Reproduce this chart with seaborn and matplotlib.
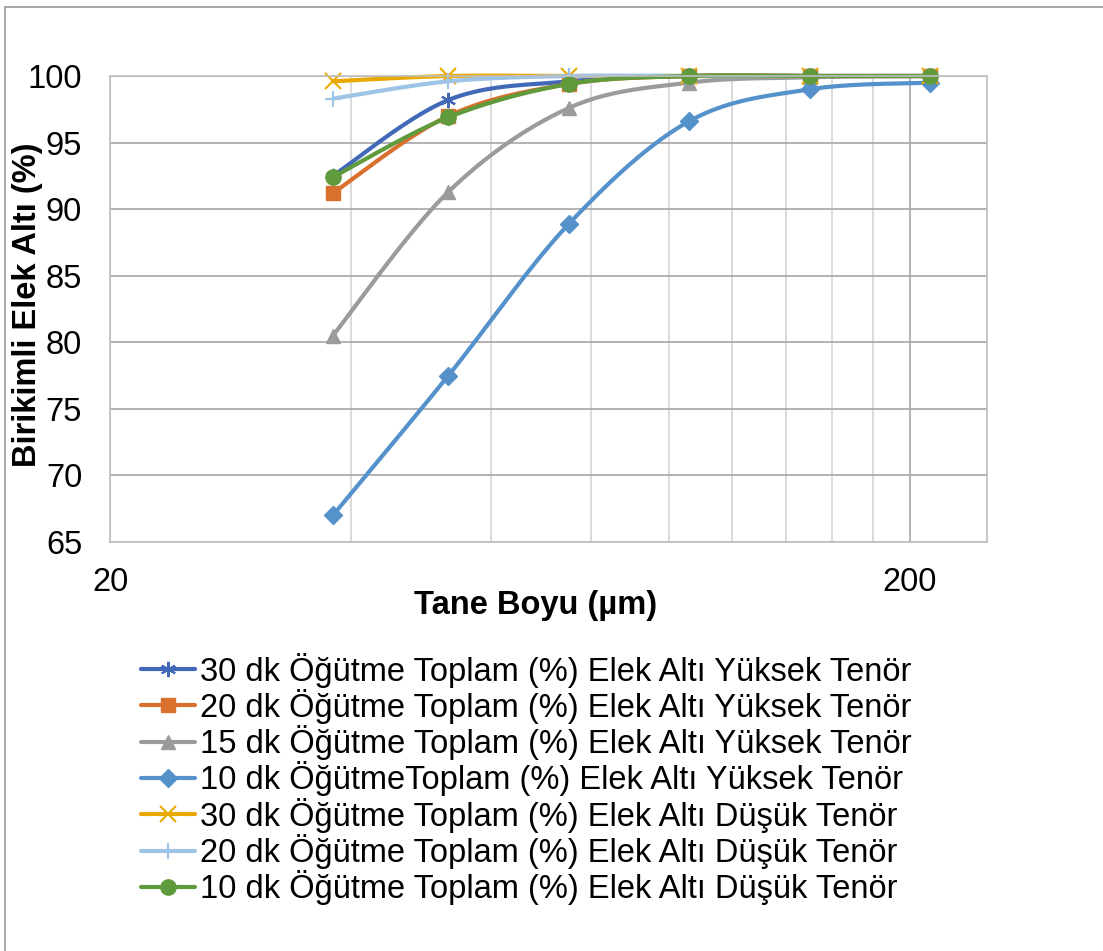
import matplotlib
matplotlib.use("Agg")
import matplotlib.pyplot as plt
import numpy as np
import pandas as pd
import seaborn as sns
from matplotlib.lines import Line2D
from matplotlib.ticker import FixedLocator, NullFormatter

# Data
sizes = [38, 53, 75, 106, 150, 212]   # Tane boyu (µm)

y30_high = [92.5, 98.2, 99.6, 100, 100, 100]
y20_high = [91.2, 97.0, 99.4, 100, 100, 100]
y15_high = [80.5, 91.3, 97.6, 99.5, 99.9, 100]
y10_high = [67.0, 77.5, 88.9, 96.6, 99.0, 99.5]
y30_low = [99.6, 100, 100, 100, 100, 100]
y20_low = [98.3, 99.6, 100, 100, 100, 100]
y10_low = [92.4, 96.9, 99.4, 100, 100, 100]

labels = [
    "30 dk Öğütme Toplam (%) Elek Altı Yüksek Tenör",
    "20 dk Öğütme Toplam (%) Elek Altı Yüksek Tenör",
    "15 dk Öğütme Toplam (%) Elek Altı Yüksek Tenör",
    "10 dk ÖğütmeToplam (%) Elek Altı Yüksek Tenör",
    "30 dk Öğütme Toplam (%) Elek Altı Düşük Tenör",
    "20 dk Öğütme Toplam (%) Elek Altı Düşük Tenör",
    "10 dk Öğütme Toplam (%) Elek Altı Düşük Tenör",
]
series = [y30_high, y20_high, y15_high, y10_high, y30_low, y20_low, y10_low]

colors = ["#4169B8", "#D9702D", "#9B9B9B", "#5591CB", "#E8AA00", "#9DC3E6", "#5F9B3C"]
markers = [(6, 2, 0), "s", "^", "D", "x", "+", "o"]
msizes = [11, 10, 10, 9, 12, 12, 11]


def smooth(xs, ys, n=40):
    # Excel-like smoothed line: cubic Bezier segments, Catmull-Rom tangents (1/6)
    lx = np.log10(np.asarray(xs, float))
    yy = np.asarray(ys, float)
    px = np.concatenate([[lx[0]], lx, [lx[-1]]])
    py = np.concatenate([[yy[0]], yy, [yy[-1]]])
    outx, outy = [], []
    t = np.linspace(0, 1, n)
    for i in range(1, len(px) - 2):
        p0 = np.array([px[i], py[i]])
        p3 = np.array([px[i + 1], py[i + 1]])
        p1 = p0 + (np.array([px[i + 1], py[i + 1]]) - np.array([px[i - 1], py[i - 1]])) / 6
        p2 = p3 - (np.array([px[i + 2], py[i + 2]]) - np.array([px[i], py[i]])) / 6
        b = ((1 - t) ** 3)[:, None] * p0 + (3 * (1 - t) ** 2 * t)[:, None] * p1 \
            + (3 * (1 - t) * t ** 2)[:, None] * p2 + (t ** 3)[:, None] * p3
        outx.extend(b[:, 0])
        outy.extend(b[:, 1])
    return 10 ** np.array(outx), np.array(outy)


sns.set_style("white")
plt.rcParams["font.family"] = ["Liberation Sans", "DejaVu Sans"]
plt.rcParams["text.color"] = "black"
plt.rcParams["xtick.color"] = "black"
plt.rcParams["ytick.color"] = "black"
plt.rcParams["axes.labelcolor"] = "black"

fs = 23.5

fig = plt.figure(figsize=(11.03, 9.51), dpi=100)
ax = fig.add_axes([110 / 1103, 1 - 542 / 951, 877 / 1103, 466 / 951])

ax.set_xscale("log")
ax.set_xlim(20, 250)
ax.set_ylim(65, 100)

# gridlines like Excel's log axis (major at 20, 200; minor 40..180)
ax.xaxis.set_major_locator(FixedLocator([20, 200]))
ax.xaxis.set_minor_locator(FixedLocator(list(range(40, 200, 20))))
ax.xaxis.set_minor_formatter(NullFormatter())
ax.set_xticklabels(["20", "200"])
ax.set_yticks(range(65, 101, 5))
ax.grid(which="major", axis="y", color="#A6A6A6", lw=1.2)
ax.grid(which="major", axis="x", color="#A6A6A6", lw=1.2)
ax.grid(which="minor", axis="x", color="#D4D4D4", lw=1.2)
ax.set_axisbelow(True)
for s in ax.spines.values():
    s.set_color("#BFBFBF")
    s.set_linewidth(1.2)

ax.tick_params(axis="both", which="both", length=0, labelsize=fs)
ax.tick_params(axis="y", pad=20)
ax.tick_params(axis="x", pad=18)

handles = []
for ys, lab, c, m, ms in zip(series, labels, colors, markers, msizes):
    sx, sy = smooth(sizes, ys)
    sns.lineplot(x=sx, y=sy, ax=ax, color=c, lw=3, sort=False, estimator=None,
                 clip_on=False)
    mew = 1.5 if m in ("x", "+", (6, 2, 0)) else 1
    ax.plot(sizes, ys, ls="none", marker=m, ms=ms, color=c, mfc=c, mec=c, mew=mew,
            clip_on=False)
    handles.append(Line2D([], [], color=c, lw=3, marker=m, ms=ms, mfc=c, mec=c, mew=mew))

ax.set_xlabel("Tane Boyu (µm)", fontsize=fs, fontweight="bold")
ax.xaxis.set_label_coords(0.485, -0.103)
ax.set_ylabel("Birikimli Elek Altı (%)", fontsize=fs, fontweight="bold")
ax.yaxis.set_label_coords(-0.076, 0.51)

fig.legend(handles, labels, loc="center", bbox_to_anchor=(526 / 1103, 1 - 779 / 951),
           frameon=False, fontsize=fs, handlelength=1.65, handletextpad=0.15,
           labelspacing=0.04, borderpad=0)

# outer chart border
fig.add_artist(Line2D([5 / 1103, 5 / 1103], [0, 1 - 7 / 951], color="#9A9A9A", lw=1.2))
fig.add_artist(Line2D([5 / 1103, 1], [1 - 7 / 951, 1 - 7 / 951], color="#9A9A9A", lw=1.2))

fig.savefig("out.png", dpi=100)
